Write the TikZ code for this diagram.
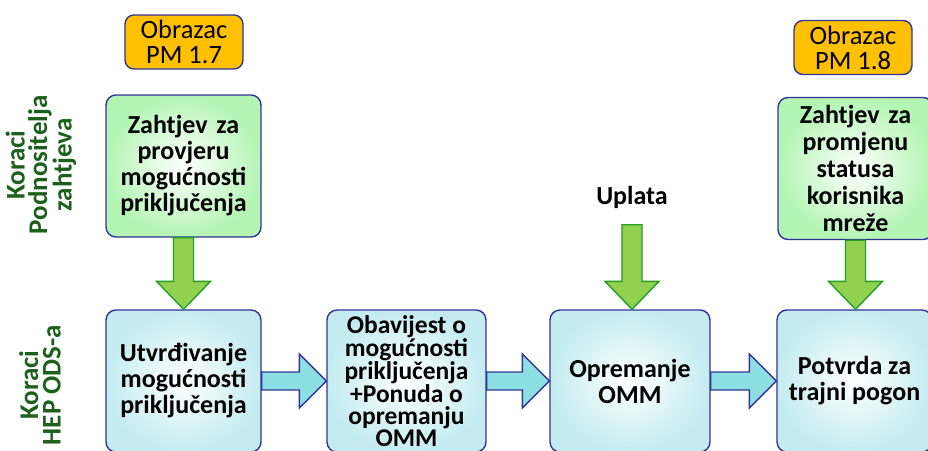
\documentclass[tikz,border=0pt]{standalone}
\usepackage{fontspec}
\setmainfont{Carlito}
\usetikzlibrary{calc}
\definecolor{bordblue}{RGB}{51,51,153}
\definecolor{orangefill}{RGB}{255,192,0}
\definecolor{greenout}{RGB}{180,245,180}
\definecolor{blueout}{RGB}{196,236,240}
\definecolor{garrfill}{RGB}{146,208,80}
\definecolor{garrline}{RGB}{34,160,34}
\definecolor{barrfill}{RGB}{140,224,226}
\definecolor{labgreen}{RGB}{28,96,28}
\tikzset{
  formbox/.style={draw=bordblue, line width=1.4pt, fill=orangefill, rounded corners=9pt,
    minimum width=118pt, minimum height=54pt, inner sep=0pt, align=center,
    font=\fontsize{26.5}{25}\selectfont},
  greenbox/.style={draw=bordblue, line width=1.4pt, rounded corners=10pt, shade,
    inner color=white, outer color=greenout,
    minimum width=155pt, minimum height=142pt, inner sep=0pt, text width=150pt, align=center,
    font=\bfseries\fontsize{26}{26}\selectfont},
  bluebox/.style={draw=bordblue, line width=1.4pt, rounded corners=10pt, shade,
    inner color=white, outer color=blueout,
    minimum height=142pt, inner sep=0pt, align=center,
    font=\bfseries\fontsize{26}{26}\selectfont},
  sidelabel/.style={rotate=90, align=center, text=labgreen,
    font=\bfseries\fontsize{27}{22.5}\selectfont},
  plainlabel/.style={font=\bfseries\fontsize{26}{26}\selectfont},
  garrow/.style={draw=garrline, line width=1.4pt, fill=garrfill, line join=miter},
  barrow/.style={draw=bordblue, line width=1.4pt, fill=barrfill, line join=miter}
}
\newcommand\downblk[3]{%
  \draw[#1] let \p1=(#2), \p2=(#3) in
    (\x1-10pt,\y1) -- (\x1+10pt,\y1) -- (\x1+10pt,\y2+28pt) -- (\x1+27pt,\y2+28pt)
    -- (\x1,\y2) -- (\x1-27pt,\y2+28pt) -- (\x1-10pt,\y2+28pt) -- cycle;}
\newcommand\rightblk[3]{%
  \draw[#1] let \p1=(#2), \p2=(#3) in
    (\x1,\y1+9pt) -- (\x2-27pt,\y1+9pt) -- (\x2-27pt,\y1+27pt) -- (\x2,\y1)
    -- (\x2-27pt,\y1-27pt) -- (\x2-27pt,\y1-9pt) -- (\x1,\y1-9pt) -- cycle;}
\begin{document}
\begin{tikzpicture}[x=1pt,y=-1pt]
\useasboundingbox (0,0) rectangle (928,450);
% side labels
\node[sidelabel] (lab1) at (41,165) {Koraci\\Podnositelja\\zahtjeva};
\node[sidelabel] (lab2) at (40,385) {Koraci\\HEP ODS-a};
% forms
\node[formbox] (f1) at (184,42) {Obrazac\\PM 1.7};
\node[formbox] (f2) at (853,47.5) {Obrazac\\PM 1.8};
% applicant boxes
\node[greenbox] (z1) at (183.5,166) {Zahtjev za\\provjeru\\mogućnosti\\priključenja};
\node[greenbox, font=\bfseries\fontsize{26}{27}\selectfont] (z2) at (855.5,168.5) {Zahtjev za\\promjenu\\statusa\\korisnika\\mreže};
\node[plainlabel] (up) at (632,197) {Uplata};
% operator boxes
\node[bluebox, minimum width=155pt] (b1) at (183.5,381) {Utvrđivanje\\mogućnosti\\priključenja};
\node[bluebox, minimum width=159pt, font=\bfseries\fontsize{25.5}{22}\selectfont] (b2) at (406.5,381) {Obavijest o\\mogućnosti\\priključenja\\+Ponuda o\\opremanju\\OMM};
\node[bluebox, minimum width=160pt] (b3) at (630,381) {Opremanje\\OMM};
\node[bluebox, minimum width=155pt] (b4) at (854.5,381) {Potvrda za\\trajni pogon};
% green arrows
\coordinate (upa) at ([yshift=-13pt]up.south);
\downblk{garrow}{z1.south}{b1.north}
\downblk{garrow}{upa}{b3.north}
\downblk{garrow}{z2.south}{b4.north}
% blue arrows
\rightblk{barrow}{b1.east}{b2.west}
\rightblk{barrow}{b2.east}{b3.west}
\rightblk{barrow}{b3.east}{b4.west}
\end{tikzpicture}
\end{document}
